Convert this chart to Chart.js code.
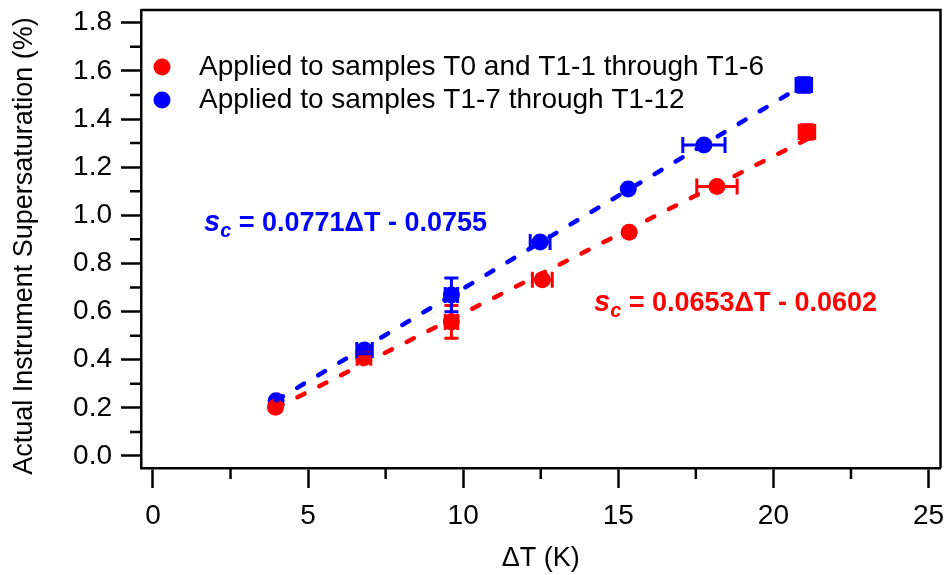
<!DOCTYPE html>
<html>
<head>
<meta charset="utf-8">
<script src="https://cdn.jsdelivr.net/npm/chart.js@4"></script>
<style>
  html, body { margin: 0; padding: 0; background: #fff; }
  #chart { display: block; }
</style>
</head>
<body>
<canvas id="chart" width="949" height="575"></canvas>
<script>
// ── data ──
const redLabel = 'Applied to samples T0 and T1-1 through T1-6';
const blueLabel = 'Applied to samples T1-7 through T1-12';
const yTitle = 'Actual Instrument Supersaturation (%)';
const xTitle = '\u0394T (K)';

const redX    = [3.95, 6.80, 9.62, 12.55, 15.35, 18.18, 21.08];
const redY    = [0.203, 0.408, 0.557, 0.732, 0.930, 1.120, 1.346];
const redXErr = [0, 0.22, 0.2, 0.32, 0, 0.65, 0.25];
const redYErr = [0, 0.015, 0.068, 0, 0, 0, 0.03];

const blueX    = [3.97, 6.82, 9.62, 12.48, 15.32, 17.76, 20.98];
const blueY    = [0.229, 0.440, 0.669, 0.889, 1.109, 1.292, 1.541];
const blueXErr = [0, 0.25, 0.2, 0.32, 0, 0.68, 0.25];
const blueYErr = [0, 0.015, 0.07, 0, 0, 0, 0.03];

// fit lines (end points)
const redFitX  = [3.95, 21.08];
const redFitY  = [0.198, 1.316];
const blueFitX = [3.97, 20.98];
const blueFitY = [0.231, 1.542];

const xTicks = [0, 5, 10, 15, 20, 25];
const xMinor = [2.5, 7.5, 12.5, 17.5, 22.5];
const yTicks = [0, 0.2, 0.4, 0.6, 0.8, 1.0, 1.2, 1.4, 1.6, 1.8];
const yMinor = [0.1, 0.3, 0.5, 0.7, 0.9, 1.1, 1.3, 1.5, 1.7];

const RED = '#ff0000';
const BLUE = '#0000ff';
const FONT = '"Liberation Sans", Arial, Helvetica, sans-serif';

const pts = (xs, ys) => xs.map((x, i) => ({ x, y: ys[i] }));

// ── error bars ──
const errorBars = {
  id: 'errorBars',
  afterDatasetsDraw(chart) {
    const { ctx, scales: { x, y } } = chart;
    chart.data.datasets.forEach(ds => {
      if (!ds.errX) return;
      ctx.save();
      ctx.strokeStyle = ds.borderColor;
      ctx.lineWidth = 3;
      ds.data.forEach((p, i) => {
        const px = x.getPixelForValue(p.x);
        const py = y.getPixelForValue(p.y);
        const ex = ds.errX[i], ey = ds.errY[i];
        if (ex > 0) {
          const l = x.getPixelForValue(p.x - ex), r = x.getPixelForValue(p.x + ex);
          ctx.beginPath();
          ctx.moveTo(l, py); ctx.lineTo(r, py);
          ctx.moveTo(l, py - 8); ctx.lineTo(l, py + 8);
          ctx.moveTo(r, py - 8); ctx.lineTo(r, py + 8);
          ctx.stroke();
        }
        if (ey > 0) {
          const t = y.getPixelForValue(p.y + ey), b = y.getPixelForValue(p.y - ey);
          ctx.beginPath();
          ctx.moveTo(px, t); ctx.lineTo(px, b);
          ctx.moveTo(px - 7, t); ctx.lineTo(px + 7, t);
          ctx.moveTo(px - 7, b); ctx.lineTo(px + 7, b);
          ctx.stroke();
        }
      });
      ctx.restore();
    });
  }
};

// ── frame, minor ticks, y title, legend and fit equations ──
const decorations = {
  id: 'decorations',
  afterDraw(chart) {
    const { ctx, chartArea: a, scales: { x, y } } = chart;
    ctx.save();
    ctx.strokeStyle = '#000';
    ctx.lineWidth = 2.5;
    ctx.beginPath();
    ctx.moveTo(a.left, a.top); ctx.lineTo(a.right, a.top); ctx.lineTo(a.right, a.bottom);
    ctx.stroke();

    ctx.beginPath();
    xMinor.forEach(v => {
      const px = x.getPixelForValue(v);
      ctx.moveTo(px, a.bottom); ctx.lineTo(px, a.bottom + 11);
    });
    yMinor.forEach(v => {
      const py = y.getPixelForValue(v);
      ctx.moveTo(a.left, py); ctx.lineTo(a.left - 11, py);
    });
    ctx.stroke();

    // y axis title (sits a little below the plot centre in the original)
    ctx.save();
    ctx.translate(25, 246);
    ctx.rotate(-Math.PI / 2);
    ctx.font = '27px ' + FONT;
    ctx.fillStyle = '#000';
    ctx.textAlign = 'center';
    ctx.textBaseline = 'middle';
    ctx.fillText(yTitle, 0, 0);
    ctx.restore();

    // legend
    ctx.font = '28px ' + FONT;
    ctx.textBaseline = 'middle';
    ctx.textAlign = 'left';
    [[RED, redLabel, 67], [BLUE, blueLabel, 100]].forEach(([c, t, ly]) => {
      ctx.fillStyle = c;
      ctx.beginPath();
      ctx.arc(162, ly, 8.5, 0, Math.PI * 2);
      ctx.fill();
      ctx.fillStyle = '#000';
      ctx.fillText(t, 199, ly);
    });

    // equations
    const eq = (color, rest, ex, baseY) => {
      ctx.fillStyle = color;
      ctx.textBaseline = 'alphabetic';
      ctx.font = 'italic bold 29px ' + FONT;
      ctx.fillText('s', ex, baseY);
      let cx = ex + ctx.measureText('s').width;
      ctx.font = 'italic bold 20px ' + FONT;
      ctx.fillText('c', cx, baseY + 6);
      cx += ctx.measureText('c').width;
      ctx.font = 'bold 27px ' + FONT;
      ctx.fillText(rest, cx, baseY);
    };
    eq(BLUE, ' = 0.0771\u0394T - 0.0755', 204, 231);
    eq(RED, ' = 0.0653\u0394T - 0.0602', 594, 311);
    ctx.restore();
  }
};

const tickFont = { family: FONT, size: 28 };
const titleFont = { family: FONT, size: 27 };

new Chart(document.getElementById('chart').getContext('2d'), {
  type: 'scatter',
  data: {
    datasets: [
      {
        label: redLabel, data: pts(redX, redY), errX: redXErr, errY: redYErr,
        backgroundColor: RED, borderColor: RED, pointRadius: 8.5, pointBorderWidth: 0, order: 2
      },
      {
        label: blueLabel, data: pts(blueX, blueY), errX: blueXErr, errY: blueYErr,
        backgroundColor: BLUE, borderColor: BLUE, pointRadius: 8.5, pointBorderWidth: 0, order: 2
      },
      {
        type: 'line', label: 'red fit', data: pts(redFitX, redFitY),
        borderColor: RED, borderWidth: 4.5, borderDash: [8, 16.5], borderCapStyle: 'round',
        pointRadius: 0, fill: false, order: 1
      },
      {
        type: 'line', label: 'blue fit', data: pts(blueFitX, blueFitY),
        borderColor: BLUE, borderWidth: 4.5, borderDash: [8, 16.5], borderCapStyle: 'round',
        pointRadius: 0, fill: false, order: 1
      }
    ]
  },
  options: {
    responsive: false,
    animation: false,
    devicePixelRatio: 1,
    layout: { padding: { top: 10, right: 7, left: 0, bottom: 0 } },
    plugins: { legend: { display: false }, tooltip: { enabled: false } },
    scales: {
      x: {
        type: 'linear', position: 'bottom', min: -0.386, max: 25.386,
        afterBuildTicks: s => { s.ticks = xTicks.map(v => ({ value: v })); },
        afterFit: s => { s.height = 107; s.paddingLeft = 0; s.paddingRight = 0; },
        ticks: { font: tickFont, color: '#000', padding: 11.5, maxRotation: 0, autoSkip: false },
        grid: { drawOnChartArea: false, drawTicks: true, tickLength: 20, tickColor: '#000', tickWidth: 2.5 },
        border: { display: true, color: '#000', width: 2.5 },
        title: { display: true, text: xTitle, font: titleFont, color: '#000', padding: { top: 0, bottom: 0 } }
      },
      y: {
        type: 'linear', position: 'left', min: -0.0499, max: 1.853,
        afterBuildTicks: s => { s.ticks = yTicks.map(v => ({ value: v })); },
        afterFit: s => { s.width = 141; s.paddingTop = 0; s.paddingBottom = 0; },
        ticks: { font: tickFont, color: '#000', padding: 9, autoSkip: false, callback: v => v.toFixed(1) },
        grid: { drawOnChartArea: false, drawTicks: true, tickLength: 20, tickColor: '#000', tickWidth: 2.5 },
        border: { display: true, color: '#000', width: 2.5 },
        title: { display: false }
      }
    }
  },
  plugins: [errorBars, decorations]
});
</script>
</body>
</html>
